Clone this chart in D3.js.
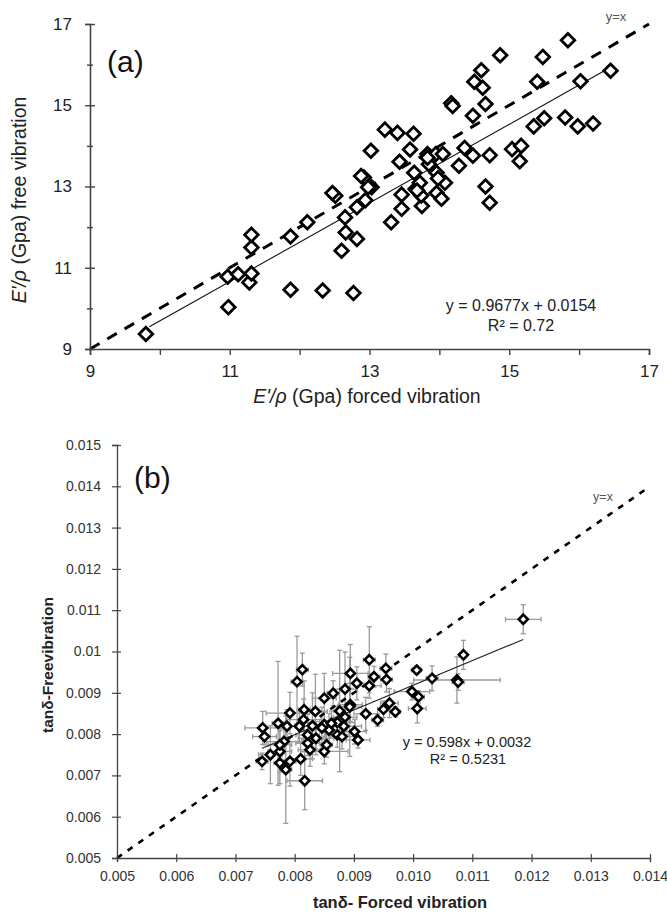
<!DOCTYPE html>
<html><head><meta charset="utf-8">
<script src="https://cdn.jsdelivr.net/npm/d3@7"></script>
<style>
body{margin:0;background:#fff}
svg{display:block}
text{font-family:"Liberation Sans",Arial,Helvetica,sans-serif}
</style>
</head><body>
<svg id="c" width="667" height="917"></svg>
<script>
// ---------- Panel (a) data ----------
const aForced=[9.80,10.98,10.97,11.12,11.28,11.31,11.31,11.31,11.87,12.33,12.77,11.87,12.11,12.51,12.60,12.66,12.65,12.82,12.82,12.94,12.92,13.03,13.02,13.22,13.31,13.40,13.43,13.46,13.46,13.63,13.58,13.64,13.66,13.75,13.74,13.72,13.83,13.85,13.95,13.96,13.96,14.03,14.08,14.05,14.17,14.19,14.28,14.36,14.48,14.48,14.50,14.62,14.60,14.66,14.66,14.72,14.72,14.87,15.04,15.17,15.15,15.35,15.40,15.50,15.48,15.80,15.98,15.84,16.02,16.20,16.45,13.83,13.68,13.98,12.88,12.98,12.47];
const aFree=[9.37,10.03,10.78,10.84,10.64,10.86,11.50,11.81,10.46,10.44,10.38,11.77,12.12,12.77,11.42,11.87,12.24,11.71,12.49,12.66,13.22,12.98,13.88,14.40,12.12,14.32,13.61,12.80,12.45,14.30,13.91,13.34,12.94,12.52,12.78,13.09,13.80,13.55,13.80,13.34,12.84,12.70,13.09,13.80,15.05,14.98,13.51,13.95,13.76,14.74,15.58,15.43,15.86,15.03,13.00,12.60,13.77,16.23,13.92,14.00,13.62,14.48,15.58,14.68,16.19,14.70,14.48,16.60,15.59,14.55,15.85,13.71,12.90,13.20,13.26,12.98,12.84];
const aMajorTicks=[9,11,13,15,17];
const aMinorTicks=[10,12,14,16];
const aXTicks=[9,10,11,12,13,14,15,16,17];
const aFit={slope:0.9677,intercept:0.0154,x0:9.85,x1:16.45};
const aEq=["y = 0.9677x  + 0.0154","R\u00B2 = 0.72"];

// ---------- Panel (b) data ----------
const bForced=[0.01186,0.01085,0.01074,0.01076,0.01032,0.01006,0.00998,0.01009,0.01007,0.00970,0.00960,0.00950,0.00940,0.00920,0.00954,0.00955,0.00934,0.00926,0.00926,0.00905,0.00894,0.00894,0.00885,0.00865,0.00850,0.00876,0.00885,0.00872,0.00883,0.00872,0.00880,0.00901,0.00907,0.00858,0.00850,0.00850,0.00854,0.00836,0.00835,0.00826,0.00822,0.00822,0.00816,0.00815,0.00813,0.00804,0.00808,0.00810,0.00817,0.00792,0.00787,0.00782,0.00772,0.00785,0.00792,0.00775,0.00775,0.00775,0.00759,0.00746,0.00749,0.00745,0.00830,0.00862,0.00846,0.00893];
const bFree=[0.01078,0.00992,0.00931,0.00926,0.00935,0.00955,0.00903,0.00890,0.00862,0.00854,0.00875,0.00860,0.00834,0.00849,0.00959,0.00932,0.00939,0.00980,0.00917,0.00923,0.00947,0.00871,0.00909,0.00899,0.00887,0.00856,0.00841,0.00828,0.00819,0.00798,0.00794,0.00806,0.00786,0.00810,0.00823,0.00758,0.00774,0.00790,0.00855,0.00762,0.00778,0.00798,0.00859,0.00835,0.00956,0.00927,0.00819,0.00740,0.00687,0.00851,0.00819,0.00782,0.00826,0.00714,0.00734,0.00758,0.00774,0.00730,0.00750,0.00815,0.00794,0.00734,0.00820,0.00826,0.00815,0.00866];
const bErrX=[0.0003,0.00005,0.00073,0.0001,0.0001,0.00008,0.0003,0.0001,0.00015,0.00008,0.00015,0.0001,0.0001,0.0002,0.0001,0.0001,0.0001,0.0001,0.0002,0.0002,0.0003,0.0002,0.0002,0.0001,0.0002,0.0001,0.0002,0.0003,0.0003,0.0002,0.0002,0.0002,0.0002,0.0003,0.0002,0.0004,0.0001,0.0003,0.0002,0.0002,0.0002,0.0002,0.0001,0.0003,0.0001,0.0001,0.0003,0.0002,0.0003,0.0004,0.0002,0.0003,0.0001,0.0001,0.0001,0.0002,0.0002,0.0001,0.0002,0.0003,0.0002,0.0001,0.0003,0.0002,0.0002,0.0002];
const bErrY=[0.00035,0.00035,0.00056,0.0002,0.0003,0.0001,0.0002,0.00015,0.00035,0.00012,0.00035,0.0002,0.00015,0.0004,0.00035,0.0003,0.00025,0.0008,0.0003,0.0004,0.0007,0.0004,0.0009,0.0003,0.0006,0.00147,0.0003,0.0004,0.0003,0.0003,0.0003,0.0003,0.0002,0.0004,0.0003,0.0003,0.0003,0.0004,0.0009,0.0004,0.0003,0.0005,0.0007,0.0005,0.0004,0.0011,0.0004,0.0004,0.0007,0.0005,0.0004,0.0003,0.0015,0.0013,0.0006,0.0005,0.0004,0.0005,0.0007,0.0004,0.0002,0.0002,0.0008,0.0003,0.0005,0.0012];
const bXTickVals=[0.005,0.006,0.007,0.008,0.009,0.010,0.011,0.012,0.013,0.014];
const bXTickLabels=["0.005","0.006","0.007","0.008","0.009","0.010","0.011","0.012","0.013","0.014"];
const bYTickVals=[0.005,0.006,0.007,0.008,0.009,0.010,0.011,0.012,0.013,0.014,0.015];
const bYTickLabels=["0.005","0.006","0.007","0.008","0.009","0.01","0.011","0.012","0.013","0.014","0.015"];
const bFit={slope:0.598,intercept:0.0032,x0:0.00745,x1:0.01186};
const bEq=["y = 0.598x  + 0.0032","R\u00B2 = 0.5231"];

const svg=d3.select("#c");
const axisCol="#444";

// ================= Panel (a) =================
const ax=d3.scaleLinear().domain([9,17]).range([90,649]);
const ay=d3.scaleLinear().domain([9,17]).range([349,24]);
const ga=svg.append("g");

// y=x dashed
ga.append("line").attr("x1",ax(9)).attr("y1",ay(9)).attr("x2",ax(17)).attr("y2",ay(17))
  .attr("stroke","#000").attr("stroke-width",3).attr("stroke-dasharray","11,9");
// fit line
ga.append("line").attr("x1",ax(aFit.x0)).attr("y1",ay(aFit.slope*aFit.x0+aFit.intercept))
  .attr("x2",ax(aFit.x1)).attr("y2",ay(aFit.slope*aFit.x1+aFit.intercept))
  .attr("stroke","#111").attr("stroke-width",1.1);

// axes
const aYAxis=ga.append("g").attr("transform",`translate(${ax(9)},0)`)
  .call(d3.axisLeft(ay).tickValues(aMajorTicks).tickSize(5).tickPadding(13).tickFormat(d3.format("d")));
aYAxis.selectAll(".tick line").attr("x1",5);
const aYMinor=ga.append("g").attr("transform",`translate(${ax(9)},0)`)
  .call(d3.axisLeft(ay).tickValues(aMinorTicks).tickSize(3).tickFormat(""));
aYMinor.selectAll(".tick line").attr("x1",3);
aYMinor.select(".domain").remove();
const aXAxis=ga.append("g").attr("transform",`translate(0,${ay(9)})`)
  .call(d3.axisBottom(ax).tickValues(aXTicks).tickSize(6).tickPadding(6).tickFormat(d=>d%2?d:""));
[aYAxis,aYMinor,aXAxis].forEach(g=>{
  g.select(".domain").attr("stroke",axisCol).attr("stroke-width",1.6);
  g.selectAll(".tick line").attr("stroke",axisCol).attr("stroke-width",1.4);
  g.selectAll(".tick text").attr("fill","#222").style("font-size","17px").style("font-family","Liberation Sans, Arial, sans-serif");
});
aXAxis.selectAll(".tick text").attr("dy","0.95em");

// diamonds
const dA=6.8;
ga.append("g").selectAll("path").data(aForced).join("path")
  .attr("d",(d,i)=>{const x=ax(d),y=ay(aFree[i]);return `M${x},${y-dA}L${x+dA},${y}L${x},${y+dA}L${x-dA},${y}Z`;})
  .attr("fill","#fff").attr("stroke","#000").attr("stroke-width",2.8).attr("stroke-linejoin","miter");

// texts
ga.append("text").attr("x",107).attr("y",72).style("font-size","30px").attr("fill","#111").text("(a)");
ga.append("text").attr("x",616).attr("y",21).attr("text-anchor","middle").style("font-size","13px").attr("fill","#555").text("y=x");
aEq.forEach((t,i)=>{
  ga.append("text").attr("x",521).attr("y",i?331:311)
    .attr("text-anchor","middle").style("font-size","16px").attr("fill","#222").text(t);
});
const axt=ga.append("text").attr("x",367).attr("y",403).attr("text-anchor","middle").style("font-size","19.5px").attr("fill","#222");
axt.append("tspan").style("font-style","italic").text("E'/\u03C1");
axt.append("tspan").text(" (Gpa) forced vibration");
const ayt=ga.append("text").attr("transform","translate(26,200) rotate(-90)").attr("text-anchor","middle").style("font-size","19.5px").attr("fill","#222");
ayt.append("tspan").style("font-style","italic").text("E'/\u03C1");
ayt.append("tspan").text(" (Gpa) free vibration");

// ================= Panel (b) =================
const bx=d3.scaleLinear().domain([0.005,0.014]).range([117,650]);
const by=d3.scaleLinear().domain([0.005,0.015]).range([858,445]);
const gb=svg.append("g");

// error bars
const eb=gb.append("g").attr("stroke","#9a9a9a").attr("stroke-width",1.3).attr("fill","none");
const cap=2.5;
bForced.forEach((xv,i)=>{
  const yv=bFree[i],ex=bErrX[i],ey=bErrY[i];
  const cx=bx(xv),cy=by(yv);
  const xl=bx(xv-ex),xr=bx(xv+ex),yt=by(yv+ey),yb=by(yv-ey);
  eb.append("line").attr("x1",xl).attr("x2",xr).attr("y1",cy).attr("y2",cy);
  eb.append("line").attr("x1",xl).attr("x2",xl).attr("y1",cy-cap).attr("y2",cy+cap);
  eb.append("line").attr("x1",xr).attr("x2",xr).attr("y1",cy-cap).attr("y2",cy+cap);
  eb.append("line").attr("x1",cx).attr("x2",cx).attr("y1",yt).attr("y2",yb);
  eb.append("line").attr("x1",cx-cap).attr("x2",cx+cap).attr("y1",yt).attr("y2",yt);
  eb.append("line").attr("x1",cx-cap).attr("x2",cx+cap).attr("y1",yb).attr("y2",yb);
});

// y=x dashed
gb.append("line").attr("x1",bx(0.005)).attr("y1",by(0.005)).attr("x2",bx(0.014)).attr("y2",by(0.014))
  .attr("stroke","#000").attr("stroke-width",2.6).attr("stroke-dasharray","6,7");
// fit line
gb.append("line").attr("x1",bx(bFit.x0)).attr("y1",by(bFit.slope*bFit.x0+bFit.intercept))
  .attr("x2",bx(bFit.x1)).attr("y2",by(bFit.slope*bFit.x1+bFit.intercept))
  .attr("stroke","#222").attr("stroke-width",1.1);

// axes
const bYAxis=gb.append("g").attr("transform",`translate(${bx(0.005)},0)`)
  .call(d3.axisLeft(by).tickValues(bYTickVals).tickSize(5).tickPadding(11).tickFormat((d,i)=>bYTickLabels[i]));
bYAxis.selectAll(".tick line").attr("x1",4);
const bXAxis=gb.append("g").attr("transform",`translate(0,${by(0.005)})`)
  .call(d3.axisBottom(bx).tickValues(bXTickVals).tickSize(4).tickPadding(9).tickFormat((d,i)=>bXTickLabels[i]));
bXAxis.selectAll(".tick line").attr("y1",-4);
[bYAxis,bXAxis].forEach(g=>{
  g.select(".domain").attr("stroke",axisCol).attr("stroke-width",1.3);
  g.selectAll(".tick line").attr("stroke",axisCol).attr("stroke-width",1.2);
  g.selectAll(".tick text").attr("fill","#333").style("font-size","14px").style("font-family","Liberation Sans, Arial, sans-serif");
});

// diamonds
const dB=4.6;
gb.append("g").selectAll("path").data(bForced).join("path")
  .attr("d",(d,i)=>{const x=bx(d),y=by(bFree[i]);return `M${x},${y-dB}L${x+dB},${y}L${x},${y+dB}L${x-dB},${y}Z`;})
  .attr("fill","#fff").attr("stroke","#000").attr("stroke-width",2.6);

// texts
gb.append("text").attr("x",134).attr("y",488).style("font-size","30px").attr("fill","#111").text("(b)");
gb.append("text").attr("x",603).attr("y",501).attr("text-anchor","middle").style("font-size","12.5px").attr("fill","#555").text("y=x");
bEq.forEach((t,i)=>{
  gb.append("text").attr("transform",`translate(${i?468:467},${i?764:747}) scale(0.97,1)`)
    .attr("text-anchor","middle").style("font-size","15px").attr("fill","#222").text(t);
});
gb.append("text").attr("x",400).attr("y",908).attr("text-anchor","middle").style("font-size","16.5px").style("font-weight","bold").attr("fill","#222").text("tan\u03B4- Forced vibration");
gb.append("text").attr("transform","translate(53,665) rotate(-90)").attr("text-anchor","middle").style("font-size","15.5px").style("font-weight","bold").attr("fill","#222").text("tan\u03B4-Freevibration");
</script>
</body></html>
